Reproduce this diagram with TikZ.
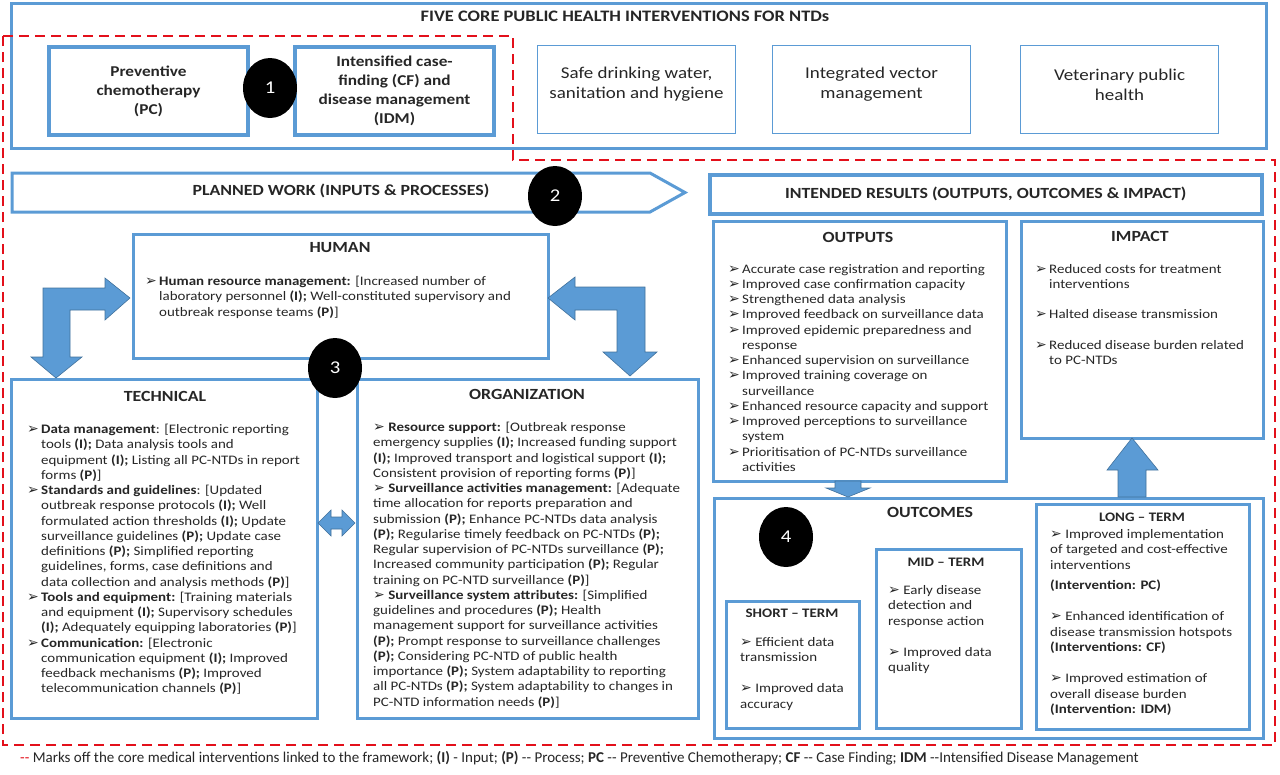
\documentclass[tikz,border=0pt]{standalone}
\usepackage{fontspec}
\setmainfont{Carlito}[FakeStretch=1.15]
\newfontfamily\symfont{DejaVu Sans}
\newfontfamily\footfont{Carlito}
\usetikzlibrary{positioning,shapes.geometric}

\definecolor{boxblue}{HTML}{5B9BD5}
\definecolor{arrowline}{HTML}{41719C}
\definecolor{dashred}{HTML}{E3101B}
\definecolor{txt}{HTML}{262626}

\newcommand\arr{{\symfont\fontsize{14}{11}\selectfont\char"27A2}}
\newcommand\bul{\makebox[14pt][l]{\arr}}
\newcommand\hang{\hspace*{14pt}}

\tikzset{
  frame/.style={draw=boxblue, line width=3pt, inner sep=0pt, anchor=north west},
  heavyframe/.style={frame, line width=4pt},
  softframe/.style={frame, line width=2.5pt},
  thinframe/.style={frame, line width=1.1pt},
  title/.style={font=\fontsize{15.5}{17}\selectfont\bfseries, text=txt, inner sep=0pt},
  toptext/.style={align=center, text=txt, inner sep=0pt, font=\fontsize{16.5}{20}\selectfont},
  topbold/.style={toptext, font=\fontsize{15}{19}\selectfont\bfseries},
  head/.style={font=\fontsize{15.5}{17}\selectfont\bfseries, text=txt, inner sep=0pt},
  body/.style={align=left, anchor=north west, text=txt, inner sep=0pt, font=\fontsize{13}{15.25}\selectfont},
  termhead/.style={font=\fontsize{13}{15}\selectfont\bfseries, text=txt, inner sep=0pt},
  termbody/.style={body, font=\fontsize{13}{15.5}\selectfont},
  blockarrow/.style={fill=boxblue, draw=arrowline, line width=0.6pt},
  num/.style={ellipse, fill=black, text=white, minimum width=54pt, minimum height=60pt,
    inner sep=0pt, font=\fontsize{18}{20}\selectfont}
}

\begin{document}
\begin{tikzpicture}[x=1pt, y=-1pt]
\useasboundingbox (0,0) rectangle (1280,774);

% five core interventions
\node[frame, minimum width=1255pt, minimum height=145pt] (five) at (10,2) {};
\node[title, font=\fontsize{16}{18}\selectfont\bfseries] (fivetitle) at (625,16) {FIVE CORE PUBLIC HEALTH INTERVENTIONS FOR NTDs};

\node[heavyframe, minimum width=199pt, minimum height=88pt] (pc) at (47,45) {};
\node[topbold] at (pc.center) {Preventive\\chemotherapy\\(PC)};
\node[heavyframe, minimum width=199pt, minimum height=88pt] (idm) at (293,45) {};
\node[topbold] at (idm.center) {Intensified case-\\finding (CF) and\\disease management\\(IDM)};

\foreach \nm/\x/\txt in {water/537/{Safe drinking water,\\sanitation and hygiene},
                         vector/772/{Integrated vector\\management},
                         vet/1020/{Veterinary public\\health}}
{
  \node[thinframe, minimum width=198pt, minimum height=88pt] (\nm) at (\x,45) {};
  \node[toptext] at ([yshift=5pt]\nm.center) {\txt};
}

% planned work and intended results
\draw[draw=boxblue, line width=3pt] (12,173) -- (650,173) -- (685,192.5) -- (650,212) -- (12,212) -- cycle;
\node[title] (planned) at (341,191) {PLANNED WORK (INPUTS \& PROCESSES)};
\node[frame, line width=3.5pt, minimum width=552pt, minimum height=39pt] (results) at (708,173) {};
\node[title] at (results.center) {INTENDED RESULTS (OUTPUTS, OUTCOMES \& IMPACT)};

% human
\node[softframe, minimum width=415pt, minimum height=124pt] (human) at (132,233) {};
\node[head] at (340,248) {HUMAN};
\node[body] at (145,276) {\bul\textbf{Human resource management:} [Increased number of\\
\hang laboratory personnel \textbf{(I);} Well-constituted supervisory and\\
\hang outbreak response teams \textbf{(P)}]};

% technical
\node[softframe, minimum width=306pt, minimum height=339pt] (tech) at (10,378) {};
\node[head] at (165,396) {TECHNICAL};
\node[body] (techtxt) at (27,424) {\bul\textbf{Data management}: [Electronic reporting\\
\hang tools \textbf{(I);} Data analysis tools and\\
\hang equipment \textbf{(I);} Listing all PC-NTDs in report\\
\hang forms \textbf{(P)}]\\
\bul\textbf{Standards and guidelines}: [Updated\\
\hang outbreak response protocols \textbf{(I);} Well\\
\hang formulated action thresholds \textbf{(I);} Update\\
\hang surveillance guidelines \textbf{(P);} Update case\\
\hang definitions \textbf{(P);} Simplified reporting\\
\hang guidelines, forms, case definitions and\\
\hang data collection and analysis methods \textbf{(P)}]\\
\bul\textbf{Tools and equipment:} [Training materials\\
\hang and equipment \textbf{(I);} Supervisory schedules\\
\hang \textbf{(I);} Adequately equipping laboratories \textbf{(P)}]\\
\bul\textbf{Communication:} [Electronic\\
\hang communication equipment \textbf{(I);} Improved\\
\hang feedback mechanisms \textbf{(P);} Improved\\
\hang telecommunication channels \textbf{(P)}]};

% organization
\node[softframe, minimum width=341pt, minimum height=339pt] (org) at (356,378) {};
\node[head] at (527,394) {ORGANIZATION};
\node[body] (orgtxt) at (373,422) {\arr\ \textbf{Resource support:} [Outbreak response\\
emergency supplies \textbf{(I);} Increased funding support\\
\textbf{(I);} Improved transport and logistical support \textbf{(I);}\\
Consistent provision of reporting forms \textbf{(P)}]\\
\arr\ \textbf{Surveillance activities management:} [Adequate\\
time allocation for reports preparation and\\
submission \textbf{(P);} Enhance PC-NTDs data analysis\\
\textbf{(P);} Regularise timely feedback on PC-NTDs \textbf{(P);}\\
Regular supervision of PC-NTDs surveillance \textbf{(P);}\\
Increased community participation \textbf{(P);} Regular\\
training on PC-NTD surveillance \textbf{(P)}]\\
\arr\ \textbf{Surveillance system attributes:} [Simplified\\
guidelines and procedures \textbf{(P);} Health\\
management support for surveillance activities\\
\textbf{(P);} Prompt response to surveillance challenges\\
\textbf{(P);} Considering PC-NTD of public health\\
importance \textbf{(P);} System adaptability to reporting\\
all PC-NTDs \textbf{(P);} System adaptability to changes in\\
PC-NTD information needs \textbf{(P)}]};

% outputs
\node[frame, minimum width=293pt, minimum height=260pt] (outputs) at (712,220) {};
\node[head] at (858,237) {OUTPUTS};
\node[body] (outtxt) at (728,264) {\bul Accurate case registration and reporting\\
\bul Improved case confirmation capacity\\
\bul Strengthened data analysis\\
\bul Improved feedback on surveillance data\\
\bul Improved epidemic preparedness and\\
\hang response\\
\bul Enhanced supervision on surveillance\\
\bul Improved training coverage on\\
\hang surveillance\\
\bul Enhanced resource capacity and support\\
\bul Improved perceptions to surveillance\\
\hang system\\
\bul Prioritisation of PC-NTDs surveillance\\
\hang activities};

% impact
\node[frame, minimum width=242pt, minimum height=217pt] (impact) at (1020,220) {};
\node[head] at (1140,236) {IMPACT};
\node[body] (imptxt) at (1035,264) {\bul Reduced costs for treatment\\
\hang interventions\\[15.25pt]
\bul Halted disease transmission\\[15.25pt]
\bul Reduced disease burden related\\
\hang to PC-NTDs};

% outcomes
\node[frame, minimum width=549pt, minimum height=240pt] (outcomes) at (713,497) {};
\node[head] at (930,512) {OUTCOMES};

\node[softframe, minimum width=133pt, minimum height=127pt] (short) at (725,600) {};
\node[termhead] at (792,613) {SHORT -- TERM};
\node[termbody] at (740,637) {\arr\ Efficient data\\
transmission\\[15.5pt]
\arr\ Improved data\\
accuracy};

\node[softframe, minimum width=145pt, minimum height=179pt] (mid) at (875,548) {};
\node[termhead] at (946,562) {MID -- TERM};
\node[termbody] at (888,585) {\arr\ Early disease\\
detection and\\
response action\\[15.5pt]
\arr\ Improved data\\
quality};

\node[softframe, minimum width=213pt, minimum height=225pt] (long) at (1035,503) {};
\node[termhead] at (1142,517) {LONG -- TERM};
\node[termbody] at (1050,529) {\arr\ Improved implementation\\
of targeted and cost-effective\\
interventions\\[5pt]
\textbf{(Intervention: PC)}\\[15.5pt]
\arr\ Enhanced identification of\\
disease transmission hotspots\\
\textbf{(Interventions: CF)}\\[15.5pt]
\arr\ Improved estimation of\\
overall disease burden\\
\textbf{(Intervention: IDM)}};

% block arrows
\draw[blockarrow] (130,298) -- (105,278) -- (105,288) -- (43,288) -- (43,357) -- (31,357)
  -- (56,378) -- (82,357) -- (70,357) -- (70,310) -- (105,310) -- (105,320) -- cycle;
\draw[blockarrow] (548,298) -- (575,277) -- (575,287) -- (645,287) -- (645,352) -- (657,352)
  -- (630,376) -- (603,352) -- (617,352) -- (617,310) -- (575,310) -- (575,320) -- cycle;
\draw[blockarrow] (318,523) -- (331,510) -- (331,517) -- (342,517) -- (342,510) -- (355,523)
  -- (342,536) -- (342,529) -- (331,529) -- (331,536) -- cycle;
\draw[blockarrow] (835,481) -- (861,481) -- (861,488) -- (870,488) -- (848,497)
  -- (826,488) -- (835,488) -- cycle;
\draw[blockarrow] (1132,438) -- (1158,470) -- (1146,470) -- (1146,497) -- (1118,497)
  -- (1118,470) -- (1107,470) -- cycle;

% core medical interventions
\draw[dashred, line width=2.5pt, dash pattern=on 10pt off 6pt]
  (3,36) -- (513,36) -- (513,160) -- (1275,160) -- (1275,745) -- (3,745) -- cycle;

\foreach \n/\x/\y in {1/270/88, 2/555/196, 3/335/368, 4/786/537}
  \node[num] (c\n) at (\x,\y) {\n};

\node[anchor=west, inner sep=0pt, text=txt, font=\footfont\fontsize{15}{17}\selectfont] (note) at (20,758)
  {\textcolor{dashred}{-{}-} Marks off the core medical interventions linked to the framework; \textbf{(I)} - Input; \textbf{(P)} -- Process; \textbf{PC} -- Preventive Chemotherapy; \textbf{CF} -- Case Finding; \textbf{IDM} --Intensified Disease Management};
\end{tikzpicture}
\end{document}
